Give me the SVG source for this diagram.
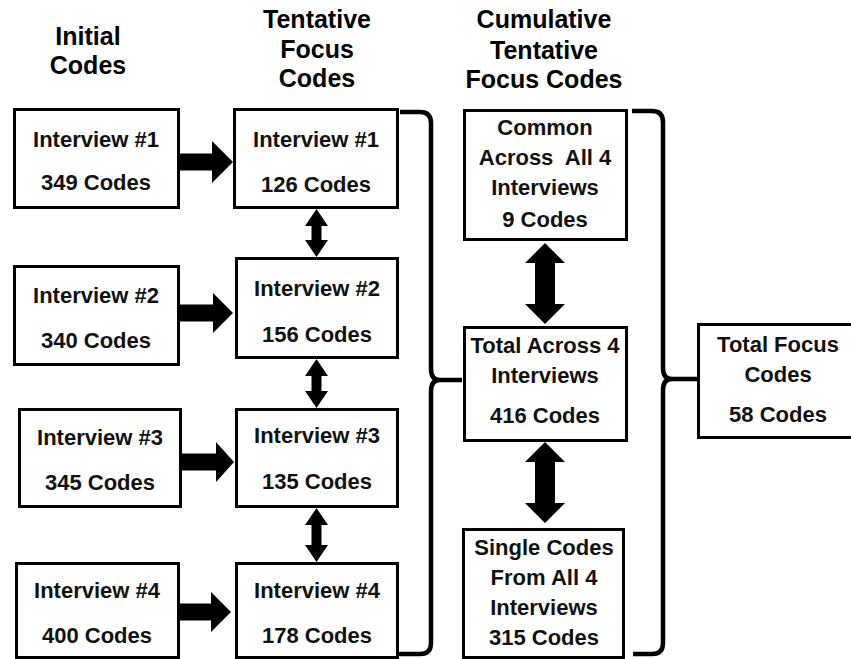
<svg xmlns="http://www.w3.org/2000/svg" width="851" height="659" viewBox="0 0 851 659">
  <style>
    .hdr { font-family: "Liberation Sans", Arial, sans-serif; font-weight: bold; font-size: 25px; fill: #000; text-anchor: middle; }
    .lbl { font-family: "Liberation Sans", Arial, sans-serif; font-weight: bold; font-size: 22px; fill: #111; text-anchor: middle; }
    .box { fill: #fff; stroke: #000; stroke-width: 3; }
    .brace { fill: none; stroke: #000; stroke-width: 4.5; stroke-linejoin: round; }
    .arrow { fill: #000; stroke: none; }
  </style>
  <rect width="851" height="659" fill="#fff"/>

  <!-- column headings -->
  <g id="headings">
    <text class="hdr" x="88" y="45">Initial</text>
    <text class="hdr" x="88" y="74">Codes</text>
    <text class="hdr" x="317" y="28">Tentative</text>
    <text class="hdr" x="317" y="58">Focus</text>
    <text class="hdr" x="317" y="87">Codes</text>
    <text class="hdr" x="544" y="28">Cumulative</text>
    <text class="hdr" x="544" y="59">Tentative</text>
    <text class="hdr" x="544" y="88">Focus Codes</text>
  </g>

  <!-- connectors: block arrows and braces -->
  <g id="connectors">
    <!-- initial -> tentative -->
    <path class="arrow" d="M180,153.5 H212 V141 L233,162 L212,183 V170.5 H180 Z"/>
    <path class="arrow" d="M180,304.5 H213 V293 L233,313 L213,333 V321.5 H180 Z"/>
    <path class="arrow" d="M182,453.5 H216 V442 L234,462 L216,482 V470.5 H182 Z"/>
    <path class="arrow" d="M178,603.5 H211 V592 L231,612 L211,632 V620.5 H178 Z"/>
    <!-- tentative vertical double arrows -->
    <path class="arrow" d="M316.5,209 L328,226 H321.5 V240 H328 L316.5,257 L305,240 H311.5 V226 H305 Z"/>
    <path class="arrow" d="M316.5,359 L328,376 H321.5 V391 H328 L316.5,408 L305,391 H311.5 V376 H305 Z"/>
    <path class="arrow" d="M316.5,508 L328,525 H321.5 V545 H328 L316.5,562 L305,545 H311.5 V525 H305 Z"/>
    <!-- cumulative vertical double arrows -->
    <path class="arrow" d="M545,243 L565,263 H555 V304 H565 L545,324 L525,304 H535 V263 H525 Z"/>
    <path class="arrow" d="M545,442 L565,462 H555 V503 H565 L545,523 L525,503 H535 V462 H525 Z"/>
    <!-- braces -->
    <path class="brace" d="M400,112 H420 Q431,112 431,123 V369 Q431,380 440,380 H462 M440,380 Q431,380 431,391 V643 Q431,654 420,654 H399"/>
    <path class="brace" d="M632,111 H652 Q663,111 663,122 V368 Q663,379 672,379 H697 M672,379 Q663,379 663,390 V643 Q663,654 652,654 H633"/>
  </g>

  <!-- initial codes -->
  <g id="initial-1">
    <rect class="box" x="14.5" y="109.5" width="164" height="98"/>
    <text class="lbl" x="96" y="147">Interview #1</text>
    <text class="lbl" x="96" y="190">349 Codes</text>
  </g>
  <g id="initial-2">
    <rect class="box" x="14.5" y="266.5" width="164" height="98"/>
    <text class="lbl" x="96" y="303">Interview #2</text>
    <text class="lbl" x="96" y="348">340 Codes</text>
  </g>
  <g id="initial-3">
    <rect class="box" x="19.5" y="409.5" width="161" height="97"/>
    <text class="lbl" x="100" y="445">Interview #3</text>
    <text class="lbl" x="100" y="490">345 Codes</text>
  </g>
  <g id="initial-4">
    <rect class="box" x="16.5" y="563.5" width="162" height="94"/>
    <text class="lbl" x="97" y="598">Interview #4</text>
    <text class="lbl" x="97" y="643">400 Codes</text>
  </g>

  <!-- tentative focus codes -->
  <g id="tentative-1">
    <rect class="box" x="234.5" y="109.5" width="163" height="98"/>
    <text class="lbl" x="316" y="147">Interview #1</text>
    <text class="lbl" x="316" y="192">126 Codes</text>
  </g>
  <g id="tentative-2">
    <rect class="box" x="236.5" y="258.5" width="161" height="99"/>
    <text class="lbl" x="317" y="296">Interview #2</text>
    <text class="lbl" x="317" y="342">156 Codes</text>
  </g>
  <g id="tentative-3">
    <rect class="box" x="236.5" y="409.5" width="161" height="97"/>
    <text class="lbl" x="317" y="443">Interview #3</text>
    <text class="lbl" x="317" y="489">135 Codes</text>
  </g>
  <g id="tentative-4">
    <rect class="box" x="236.5" y="563.5" width="161" height="94"/>
    <text class="lbl" x="317" y="598">Interview #4</text>
    <text class="lbl" x="317" y="643">178 Codes</text>
  </g>

  <!-- cumulative tentative focus codes -->
  <g id="common">
    <rect class="box" x="464.5" y="110.5" width="162" height="129"/>
    <text class="lbl" x="545" y="135">Common</text>
    <text class="lbl" x="545" y="165" xml:space="preserve">Across  All 4</text>
    <text class="lbl" x="545" y="195">Interviews</text>
    <text class="lbl" x="545" y="227">9 Codes</text>
  </g>
  <g id="total-across">
    <rect class="box" x="464.5" y="327.5" width="162" height="113"/>
    <text class="lbl" x="545" y="353">Total Across 4</text>
    <text class="lbl" x="545" y="383">Interviews</text>
    <text class="lbl" x="545" y="423">416 Codes</text>
  </g>
  <g id="single">
    <rect class="box" x="463.5" y="529.5" width="160" height="128"/>
    <text class="lbl" x="544" y="555">Single Codes</text>
    <text class="lbl" x="544" y="585">From All 4</text>
    <text class="lbl" x="544" y="615">Interviews</text>
    <text class="lbl" x="544" y="645">315 Codes</text>
  </g>

  <!-- final result -->
  <g id="total-focus">
    <rect class="box" x="698.5" y="324.5" width="162" height="113"/>
    <text class="lbl" x="778" y="352">Total Focus</text>
    <text class="lbl" x="778" y="382">Codes</text>
    <text class="lbl" x="778" y="422">58 Codes</text>
  </g>
</svg>
